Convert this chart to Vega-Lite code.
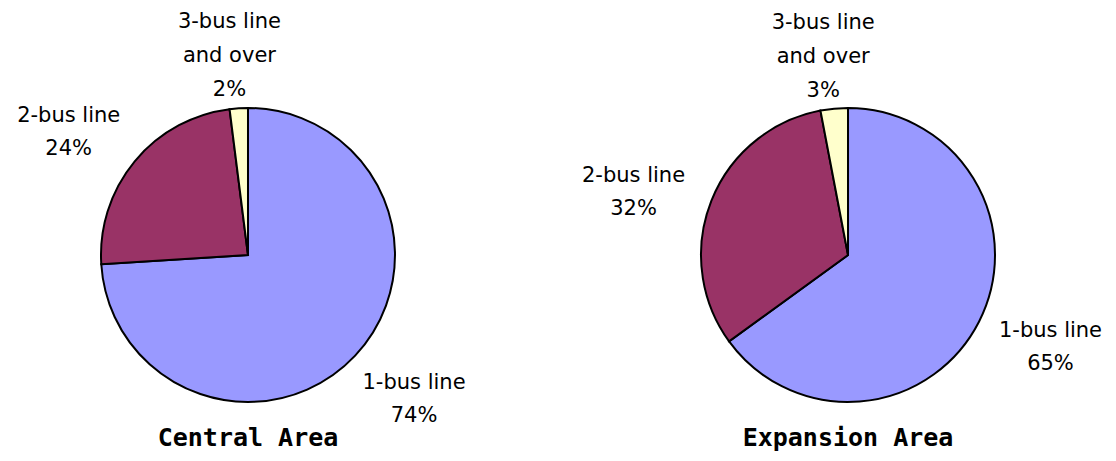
{
  "$schema": "https://vega.github.io/schema/vega-lite/v6.json",
  "autosize": {"type": "none"},
  "width": 1096,
  "height": 412,
  "padding": {"top": 49, "left": 0, "right": 20, "bottom": 0},
  "background": "white",
  "config": {"view": {"stroke": null}},
  "data": {
    "values": [
      {"area": "Central Area", "category": "1-bus line", "share": 74},
      {"area": "Central Area", "category": "2-bus line", "share": 24},
      {"area": "Central Area", "category": "3-bus line\nand over", "share": 2},
      {"area": "Expansion Area", "category": "1-bus line", "share": 65},
      {"area": "Expansion Area", "category": "2-bus line", "share": 32},
      {"area": "Expansion Area", "category": "3-bus line\nand over", "share": 3}
    ]
  },
  "transform": [
    {"stack": "share", "groupby": ["area"], "sort": [{"field": "category", "order": "ascending"}], "as": ["share_start", "share_end"]},
    {"calculate": "(datum.share_start + datum.share_end) / 2", "as": "share_mid"},
    {"calculate": "datum.category + '\\n' + datum.share + '%'", "as": "label"}
  ],
  "encoding": {
    "x": {
      "field": "area",
      "type": "nominal",
      "scale": {"type": "point", "domain": ["Central Area", "Expansion Area"], "padding": 0.4133},
      "axis": null
    }
  },
  "layer": [
    {
      "mark": {"type": "arc", "outerRadius": 147, "stroke": "black", "strokeWidth": 2},
      "encoding": {
        "theta": {"field": "share_start", "type": "quantitative", "scale": {"domain": [0, 100]}},
        "theta2": {"field": "share_end"},
        "color": {
          "field": "category",
          "type": "nominal",
          "scale": {
            "domain": ["1-bus line", "2-bus line", "3-bus line\nand over"],
            "range": ["#9999FF", "#993366", "#FFFFCC"]
          },
          "legend": null
        }
      }
    },
    {
      "transform": [{"filter": "datum.category === '1-bus line'"}],
      "mark": {"type": "text", "radius": 225, "dx": 2, "dy": -26, "font": "DejaVu Sans", "fontSize": 21, "lineBreak": "\n", "lineHeight": 33, "align": "center", "baseline": "middle", "color": "black"},
      "encoding": {
        "theta": {"field": "share_mid", "type": "quantitative", "scale": {"domain": [0, 100]}},
        "text": {"field": "label", "type": "nominal"}
      }
    },
    {
      "transform": [{"filter": "datum.category === '2-bus line'"}],
      "mark": {"type": "text", "radius": 221, "dx": -9, "dy": 2, "font": "DejaVu Sans", "fontSize": 21, "lineBreak": "\n", "lineHeight": 33, "align": "center", "baseline": "middle", "color": "black"},
      "encoding": {
        "theta": {"field": "share_mid", "type": "quantitative", "scale": {"domain": [0, 100]}},
        "text": {"field": "label", "type": "nominal"}
      }
    },
    {
      "transform": [{"filter": "indexof(datum.category, '3-bus') === 0"}],
      "mark": {"type": "text", "radius": 200, "dx": -6, "dy": -33, "font": "DejaVu Sans", "fontSize": 21, "lineBreak": "\n", "lineHeight": 34, "align": "center", "baseline": "middle", "color": "black"},
      "encoding": {
        "theta": {"field": "share_mid", "type": "quantitative", "scale": {"domain": [0, 100]}},
        "text": {"field": "label", "type": "nominal"}
      }
    },
    {
      "data": {"values": [{"area": "Central Area"}, {"area": "Expansion Area"}]},
      "transform": [],
      "mark": {"type": "text", "theta": 3.14159, "radius": 183, "font": "DejaVu Sans Mono", "fontSize": 25, "fontWeight": "bold", "align": "center", "baseline": "middle", "color": "black"},
      "encoding": {
        "text": {"field": "area", "type": "nominal"}
      }
    }
  ]
}
